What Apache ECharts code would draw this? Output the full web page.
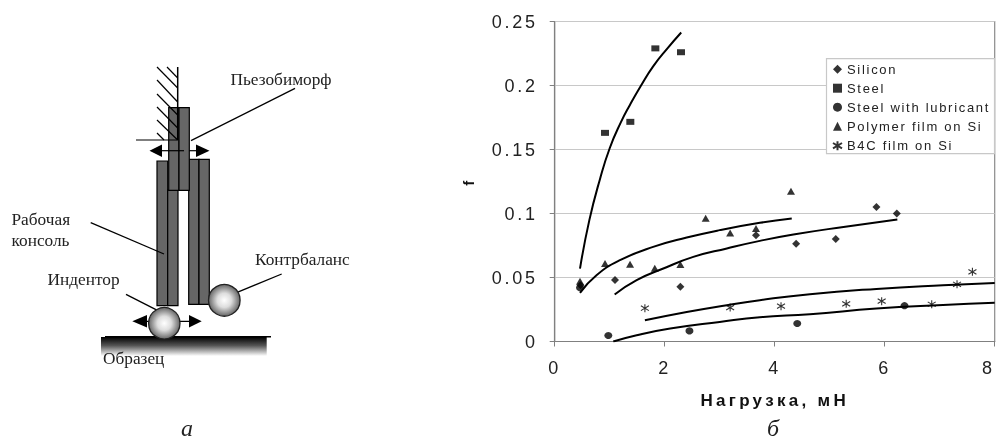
<!DOCTYPE html>
<html><head><meta charset="utf-8">
<style>
html,body{margin:0;padding:0;background:#fff}
#c{width:998px;height:441px;filter:blur(0.35px)}
#c text[style*="Liberation Sans"]{letter-spacing:1.7px}
#c text[style*="18px"]{letter-spacing:2.7px}
#c text[style*="bold"]{letter-spacing:3.3px}
</style>
<script src="https://cdn.jsdelivr.net/npm/echarts@6/dist/echarts.min.js"></script>
</head><body><div id="c"></div>
<script>
const seriesNames=['Silicon','Steel','Steel with lubricant','Polymer film on Si','B4C film on Si'];
const silicon=[[0.47,0.044],[1.096,0.048],[2.285,0.0427],[3.66,0.083],[4.39,0.0763],[5.11,0.08],[5.85,0.105],[6.22,0.1]];
const steel=[[0.915,0.163],[1.375,0.1716],[1.83,0.229],[2.296,0.226]];
const lubricant=[[0.46,0.042],[0.975,0.0047],[2.45,0.0083],[4.41,0.014],[6.36,0.028]];
const polymer=[[0.46,0.047],[0.915,0.061],[1.37,0.0603],[1.82,0.0572],[2.285,0.0601],[2.745,0.0963],[3.19,0.0848],[3.66,0.0883],[4.296,0.1174]];
const b4c=[[1.64,0.026],[3.19,0.0265],[4.115,0.0276],[5.3,0.0294],[5.945,0.0315],[6.855,0.0291],[7.315,0.0447],[7.595,0.0544]];
const trendSteel=[[0.46,0.057],[0.63,0.0948],[0.824,0.127],[1.0,0.151],[1.2,0.171],[1.37,0.185],[1.57,0.2],[1.79,0.215],[2.05,0.229],[2.3,0.2414]];
const trendPolymer=[[0.46,0.038],[0.76,0.0518],[1.187,0.0635],[1.79,0.0739],[2.4,0.0812],[3.0,0.087],[3.73,0.0927],[4.31,0.0961]];
const trendSilicon=[[1.09,0.0367],[1.49,0.0479],[1.975,0.057],[2.52,0.0661],[3.13,0.0727],[3.73,0.0786],[4.34,0.0836],[5.25,0.0895],[6.23,0.0953]];
const trendB4c=[[1.64,0.0166],[2.4,0.0231],[3.13,0.0284],[3.73,0.0323],[4.64,0.037],[5.85,0.0411],[7.06,0.044],[8,0.0458]];
const trendLub=[[1.065,0],[1.49,0.0049],[2.1,0.0101],[3.0,0.0153],[3.73,0.019],[4.64,0.0213],[5.85,0.0258],[7.06,0.0286],[8,0.0303]];

const INK='#000';
const star='path://M0 2L10 8M10 2L0 8M5 0L5 10';
const scatter=(name,data,symbol,size)=>({name,type:'scatter',data,symbol,symbolSize:size,z:5,
  itemStyle:symbol===star?{color:'none',borderColor:INK,borderWidth:1.1}:{color:INK}});
const trend=data=>({type:'line',data,smooth:0.5,symbol:'none',silent:true,z:4,lineStyle:{color:INK,width:2}});

const G=[];
const line=(x1,y1,x2,y2,w)=>G.push({type:'line',shape:{x1,y1,x2,y2},style:{stroke:INK,lineWidth:w||1.3},z:10});
const rect=(x,y,width,height)=>G.push({type:'rect',shape:{x,y,width,height},style:{fill:'#666',stroke:INK,lineWidth:1.2},z:9});
const tri=(a,b,c)=>G.push({type:'polygon',shape:{points:[a,b,c]},style:{fill:'#000'},z:11});
const ball=(cx,cy,r)=>G.push({type:'circle',shape:{cx,cy,r},z:12,style:{stroke:'#222',lineWidth:1.3,
  fill:new echarts.graphic.RadialGradient(0.5,0.5,0.5,[{offset:0,color:'#fff'},{offset:0.45,color:'#ddd'},{offset:1,color:'#666'}])}});
const label=(x,y,text)=>G.push({type:'text',x,y,z:13,style:{text,fill:'#222',font:'17.3px "Liberation Serif"',verticalAlign:'middle'}});
const caption=(x,y,text)=>G.push({type:'text',x,y,z:13,style:{text,fill:'#222',font:'italic 24px "Liberation Serif"',align:'center',verticalAlign:'bottom'}});

rect(157,161,10.7,144.7);rect(167.7,190,10.3,115.7);
rect(188.7,159.3,10.3,145);rect(199,159.3,10.3,145);
rect(168.7,107.7,10.3,82.6);rect(179,107.7,10.3,82.6);
line(177.7,67,177.7,140,1.5);line(136,140,177.7,140,1.2);
[[167,67,177.7,78],[157,67,177.7,88],[157,80,177.7,102],[157,94,177.7,115],[157,107,177.7,128],[157,120,177.7,140],[157,133,164,140]]
  .forEach(s=>line(s[0],s[1],s[2],s[3],1.2));
line(160,150.7,184,150.7,1.2);line(189,150.7,198,150.7,1.2);
tri([149.5,150.7],[162,144.5],[162,157]);tri([209.5,150.7],[196,144.5],[196,157]);
G.push({type:'rect',shape:{x:101,y:337,width:165.7,height:19},z:8,style:{fill:new echarts.graphic.LinearGradient(0,0,0,1,[{offset:0,color:'#000'},{offset:0.45,color:'#555'},{offset:1,color:'#fff'}])}});
line(105,336.7,271,336.7,1.5);
line(145,321.3,192,321.3,1.2);
tri([132.3,321.3],[147,315],[147,327.5]);tri([201.7,321.3],[189,315],[189,327.5]);
ball(164.3,323.3,15.7);ball(224.3,300.3,15.8);
line(295,88.3,191,140.7);line(90.7,222.7,164,254);line(126,294.3,167.7,315.7);line(281.7,274,229.3,295.7);
label(230.5,79,'Пьезобиморф');label(11.5,219,'Рабочая');label(11.5,240,'консоль');
label(47.5,279,'Индентор');label(255,259,'Контрбаланс');label(103,358,'Образец');
caption(187,440,'а');caption(773,440,'б');

const chart=echarts.init(document.getElementById('c'),null,{renderer:'svg',width:998,height:441});
chart.setOption({
  animation:false,backgroundColor:'#fff',
  grid:{left:554.7,top:21.5,width:440,height:320,outerBoundsMode:'none',show:true,borderColor:'#8a8a8a',borderWidth:1.2,backgroundColor:'transparent'},
  xAxis:{type:'value',min:0,max:8,interval:2,splitLine:{show:false},
    axisLine:{onZero:false,lineStyle:{color:'#808080',width:1.2}},axisTick:{show:true,length:5,lineStyle:{color:'#808080'}},
    axisLabel:{color:'#222',fontSize:18,fontFamily:'Liberation Sans',margin:17,hideOverlap:false,showMaxLabel:true,alignMaxLabel:'right'},
    name:'Нагрузка, мН',nameLocation:'middle',nameGap:50,
    nameTextStyle:{color:'#111',fontSize:17,fontWeight:'bold',fontFamily:'Liberation Sans'}},
  yAxis:{type:'value',min:0,max:0.25,interval:0.05,
    splitLine:{show:true,lineStyle:{color:'#c8c8c8',width:1.2}},
    axisLine:{show:true,lineStyle:{color:'#808080',width:1.2}},axisTick:{show:true,length:5,lineStyle:{color:'#808080'}},
    axisLabel:{color:'#222',fontSize:18,fontFamily:'Liberation Sans',margin:17},
    name:'f',nameLocation:'middle',nameGap:79,nameRotate:90,
    nameTextStyle:{color:'#111',fontSize:15,fontWeight:'bold',fontFamily:'Liberation Sans'}},
  legend:{show:true,orient:'vertical',left:826.5,top:58.7,data:seriesNames,itemWidth:9,itemHeight:9,itemGap:6,padding:[4,3,1,4],
    backgroundColor:'#fff',borderColor:'#c8c8c8',borderWidth:1.2,z:6,
    textStyle:{color:'#222',fontSize:13,fontFamily:'Liberation Sans',width:144.5,padding:[0,0,0,0],lineHeight:12,overflow:'none'}},
  series:[
    trend(trendSteel),trend(trendPolymer),trend(trendSilicon),trend(trendB4c),trend(trendLub),
    scatter(seriesNames[0],silicon,'diamond',8),
    scatter(seriesNames[1],steel,'rect',[8,6]),
    scatter(seriesNames[2],lubricant,'circle',[8,7]),
    scatter(seriesNames[3],polymer,'triangle',[8,7]),
    scatter(seriesNames[4],b4c,star,8)
  ],
  graphic:{elements:G}
});
</script></body></html>
